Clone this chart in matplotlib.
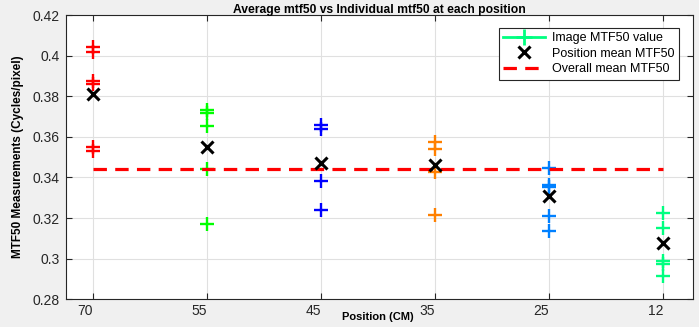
import matplotlib
matplotlib.use("Agg")
import matplotlib.pyplot as plt
from matplotlib.lines import Line2D

plt.rcParams['font.family'] = ['Liberation Sans', 'DejaVu Sans']

positions = ["70", "55", "45", "35", "25", "12"]
vals_70 = [0.4044, 0.4018, 0.3876, 0.3859, 0.3550, 0.3528]
vals_55 = [0.3733, 0.3717, 0.3655, 0.3443, 0.3172]
vals_45 = [0.3660, 0.3640, 0.3381, 0.3238]
vals_35 = [0.3574, 0.3542, 0.3425, 0.3217]
vals_25 = [0.3447, 0.3365, 0.3351, 0.3209, 0.3135]
vals_12 = [0.3226, 0.3152, 0.2988, 0.2976, 0.2917]
position_means = [0.3810, 0.3550, 0.3471, 0.3463, 0.3307, 0.3078]
overall_mean = 0.3443
colors = [(1, 0, 0), (0, 1, 0), (0, 0, 1), (1, 0.5, 0), (0, 0.5, 1), (0, 1, 0.5)]
ytick_vals = [0.28, 0.30, 0.32, 0.34, 0.36, 0.38, 0.40, 0.42]
ytick_labels = ["0.28", "0.3", "0.32", "0.34", "0.36", "0.38", "0.4", "0.42"]

groups = [vals_70, vals_55, vals_45, vals_35, vals_25, vals_12]

fig = plt.figure(figsize=(6.99, 3.27), dpi=100, facecolor=(0.94, 0.94, 0.94))
ax = fig.add_axes([0.094, 0.0847, 0.897, 0.8694])
ax.set_facecolor('white')

xs = list(range(1, len(positions) + 1))
for x, vals, c in zip(xs, groups, colors):
    ax.plot([x] * len(vals), vals, linestyle='none', marker='+', ms=10,
            mew=1.7, color=c, zorder=3)

ax.plot(xs, position_means, linestyle='none', marker='x', ms=9, mew=2.2,
        color='black', zorder=5)
ax.plot([xs[0], xs[-1]], [overall_mean, overall_mean], color='red', lw=2.3,
        linestyle=(0, (4.2, 2.6)), zorder=4)

ax.set_xlim(0.76, 6.26)
ax.set_ylim(0.28, 0.42)
ax.set_xticks(xs)
ax.set_xticklabels(positions, ha='right')
ax.set_yticks(ytick_vals)
ax.set_yticklabels(ytick_labels)

ax.grid(True, color=(0.88, 0.88, 0.88), lw=0.8)
ax.set_axisbelow(True)
ax.tick_params(direction='in', top=True, right=True, length=4, width=0.8,
               labelsize=10, colors=(0.15, 0.15, 0.15))
ax.tick_params(axis='x', pad=3.5)
ax.tick_params(axis='y', pad=4.5)
for s in ax.spines.values():
    s.set_color((0.15, 0.15, 0.15))
    s.set_linewidth(0.8)

ax.set_title("Average mtf50 vs Individual mtf50 at each position",
             fontsize=8.7, fontweight='bold', pad=1.5)
ax.set_xlabel("Position (CM)", fontsize=8, fontweight='bold', va='center')
ax.xaxis.set_label_coords(0.498, -0.062)
ax.set_ylabel("MTF50 Measurements (Cycles/pixel)", fontsize=8.5,
              fontweight='bold', labelpad=6)

handles = [
    Line2D([], [], color=colors[-1], lw=2, marker='+', ms=12, mew=2),
    Line2D([], [], color='black', linestyle='none', marker='x', ms=9, mew=2.2),
    Line2D([], [], color='red', lw=2.3, linestyle=(0, (4.2, 2.6))),
]
leg = ax.legend(handles, ["Image MTF50 value", "Position mean MTF50",
                          "Overall mean MTF50"],
                loc='upper right', bbox_to_anchor=(0.978, 0.955),
                fontsize=9, fancybox=False, framealpha=1, handlelength=3.3,
                handletextpad=0.6, borderpad=0.35, labelspacing=0.28,
                borderaxespad=0)
leg.get_frame().set_edgecolor((0.15, 0.15, 0.15))
leg.get_frame().set_linewidth(0.8)

fig.savefig("out.png", dpi=100, facecolor=fig.get_facecolor())
